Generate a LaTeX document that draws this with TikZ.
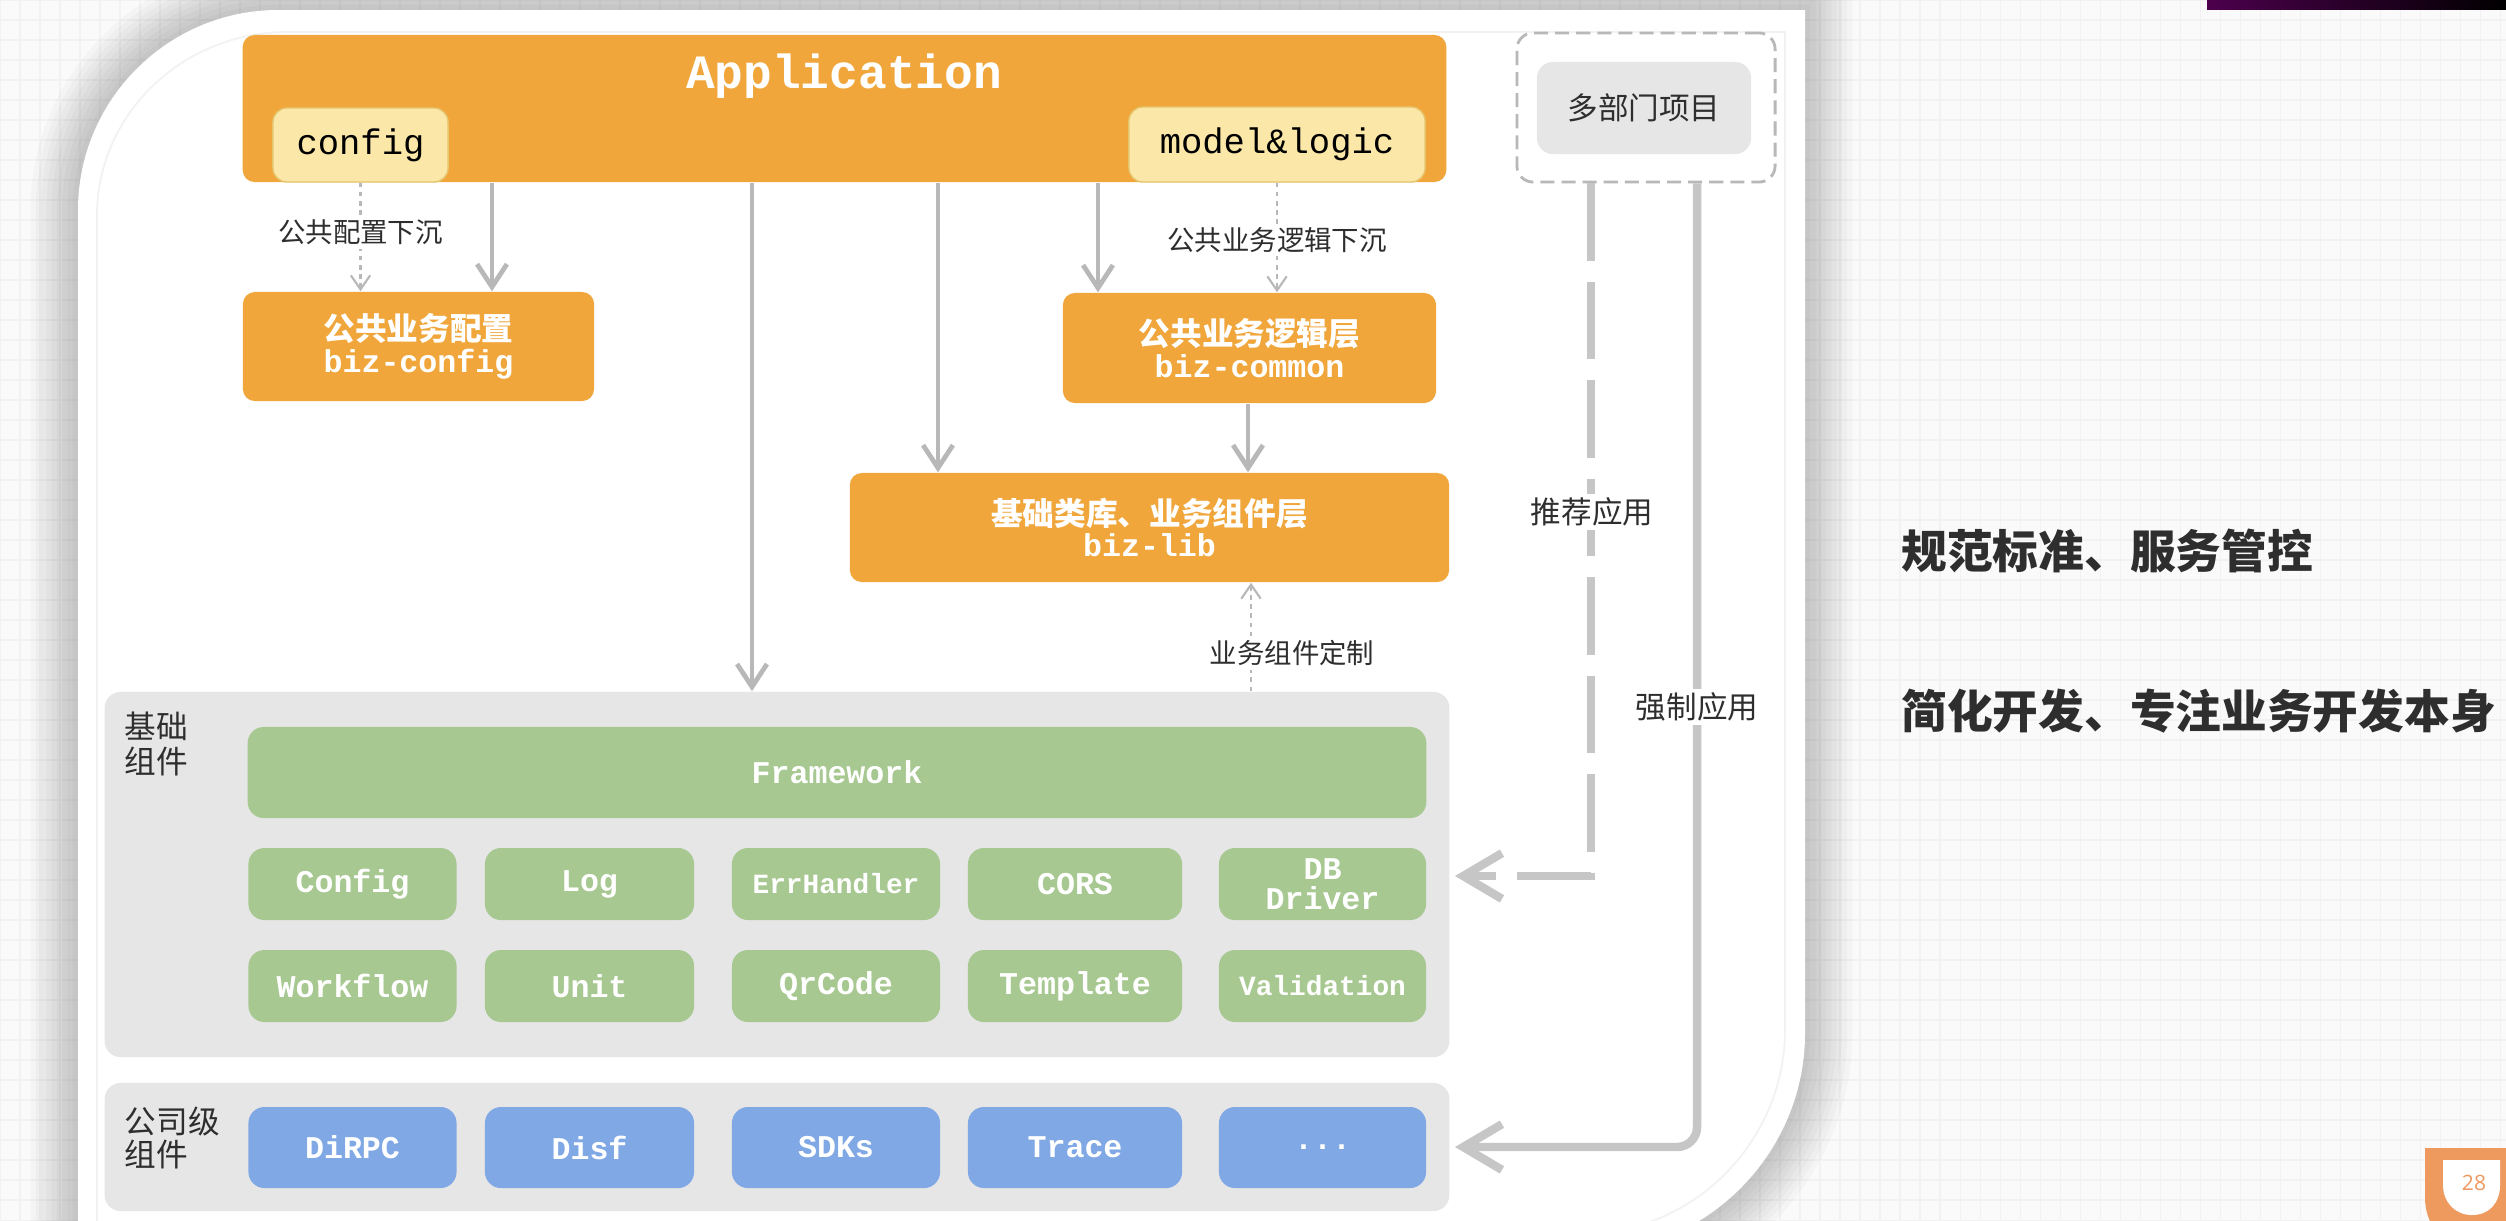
\documentclass[tikz,border=0pt]{standalone}
\usepackage{fontspec}
\setmonofont{Liberation Mono}
\newfontfamily\cjk{Noto Sans CJK SC}
\newfontfamily\pnfont{Open Sans}
\usetikzlibrary{arrows.meta,calc}
\definecolor{bgc}{HTML}{FAFAFA}
\definecolor{gridc}{HTML}{F2F2F2}
\definecolor{orng}{HTML}{F0A63B}
\definecolor{ylw}{HTML}{FBE8A8}
\definecolor{ylwb}{HTML}{E6C56E}
\definecolor{grn}{HTML}{A7C891}
\definecolor{blu}{HTML}{80A8E5}
\definecolor{panel}{HTML}{E6E6E6}
\definecolor{arrg}{HTML}{B8B8B8}
\definecolor{bigg}{HTML}{C6C6C6}
\definecolor{txt}{HTML}{2E2E2E}
\definecolor{pnum}{HTML}{EE9A5F}
\begin{document}
\begin{tikzpicture}[x=0.01cm,y=-0.01cm,
  obox/.style={fill=orng, rounded corners=0.12cm, inner sep=0pt, align=center, text=white,
    font=\fontsize{9}{9}\selectfont},
  ybox/.style={fill=ylw, draw=ylwb, line width=0.4pt, rounded corners=0.14cm, inner sep=0pt,
    font=\ttfamily\fontsize{10.1}{12}\selectfont, text=black},
  gbox/.style={fill=grn, rounded corners=0.16cm, inner sep=0pt, minimum height=0.72cm, align=center,
    text=white, font=\ttfamily\bfseries\fontsize{9}{8.6}\selectfont},
  bbox/.style={fill=blu, rounded corners=0.16cm, inner sep=0pt, minimum height=0.81cm,
    text=white, font=\ttfamily\bfseries\fontsize{9}{11}\selectfont},
  panelbox/.style={fill=panel, rounded corners=0.16cm, inner sep=0pt},
  small/.style={font=\ttfamily\bfseries\fontsize{7.9}{8.6}\selectfont},
  arr/.style={draw=arrg, line width=1.35pt, -{Straight Barb[length=6.5pt,width=8.5pt]}},
  darr/.style={draw=arrg, line width=0.6pt, dash pattern=on 1.3pt off 1.3pt,
    -{Straight Barb[length=4pt,width=5.5pt]}},
  bigarr/.style={draw=bigg, line width=2.4pt, -{Straight Barb[length=11pt,width=13pt]}},
  lbl/.style={fill=white, inner sep=1pt, text=txt, font=\cjk\fontsize{7.8}{9}\selectfont},
  lblb/.style={fill=white, inner sep=1pt, text=txt, font=\cjk\fontsize{8.7}{10}\selectfont},
  side/.style={anchor=west, text=txt, font=\cjk\bfseries\fontsize{13}{15}\selectfont}
]
\useasboundingbox (0,0) rectangle (2506,1220);
\clip (0,0) rectangle (2506,1220);
% background with faint grid
\fill[bgc] (0,0) rectangle (2506,1220);
\foreach \i in {0,20,...,2500} \draw[gridc, line width=0.3pt] (\i,0) -- (\i,1220);
\foreach \j in {0,20,...,1220} \draw[gridc, line width=0.3pt] (0,\j) -- (2506,\j);
% photo strip top right
\shade[left color=violet!60!black, right color=black] (2207,0) rectangle (2506,9);
% card with soft shadow
\def\cardpath{(78,1300) -- (78,210) .. controls (78,100) and (168,10) .. (278,10) -- (1805,10) -- (1805,1033) .. controls (1805,1154) and (1706,1253) .. (1585,1253) -- (1585,1300) -- cycle}
\foreach \w in {3,6,...,27} \draw[black, opacity=0.025, line width=\w pt] \cardpath;
\fill[white] \cardpath;
\draw[black!5, line width=0.5pt] (97,1300) -- (97,215) .. controls (97,115) and (182,32) .. (287,32) -- (1785,32) -- (1785,1030) .. controls (1785,1140) and (1695,1233) .. (1585,1233);
% page number
\fill[pnum] (2425,1148) -- (2530,1148) -- (2530,1252) -- (2478,1252) .. controls (2448,1252) and (2425,1228) .. (2425,1198) -- cycle;
\fill[white] (2443,1160) -- (2500,1160) -- (2500,1185) .. controls (2500,1202) and (2490,1215) .. (2472,1215) .. controls (2455,1215) and (2443,1202) .. (2443,1185) -- cycle;
\node[text=pnum, font=\pnfont\fontsize{6}{7}\selectfont, inner sep=0pt] (pnum) at (2474,1183) {28};

% top application
\node[obox, minimum width=12.03cm, minimum height=1.47cm] (app) at (844.5,108.5) {};
\node[anchor=base, text=white, inner sep=0pt, font=\ttfamily\bfseries\fontsize{13.6}{16}\selectfont] (apptitle) at (844,88) {Application};
\node[ybox, minimum width=1.75cm, minimum height=0.74cm] (config) at (360.5,145) {config};
\node[ybox, minimum width=2.96cm, minimum height=0.75cm] (model) at (1277,144.5) {model\&logic};

\node[obox, minimum width=3.51cm, minimum height=1.09cm] (bizconfig) at (418.5,346.5)
  {{\cjk\bfseries 公共业务配置}\\{\ttfamily\bfseries biz-config}};
\node[obox, minimum width=3.73cm, minimum height=1.10cm] (bizcommon) at (1249.5,348)
  {{\cjk\bfseries 公共业务逻辑层}\\{\ttfamily\bfseries biz-common}};
\node[obox, minimum width=5.99cm, minimum height=1.09cm] (bizlib) at (1149.5,527.5)
  {{\cjk\bfseries 基础类库、业务组件层}\\{\ttfamily\bfseries biz-lib}};

% multi department
\node[draw=black!28, line width=0.8pt, dash pattern=on 4pt off 2pt, rounded corners=0.16cm,
  minimum width=2.58cm, minimum height=1.49cm, inner sep=0pt] (multi) at (1646,107.5) {};
\node[fill=panel, rounded corners=0.16cm, minimum width=2.14cm, minimum height=0.92cm, inner sep=0pt,
  text=txt, font=\cjk\fontsize{8.7}{10}\selectfont] (multiin) at (1644,108) {多部门项目};

% base components panel
\node[panelbox, minimum width=13.44cm, minimum height=3.65cm] (base) at (777,874.5) {};
\node[anchor=north west, align=left, inner sep=0pt, text=txt, font=\cjk\fontsize{9}{10}\selectfont] (baselbl) at (124,711) {基础\\组件};
\node[gbox, minimum width=11.78cm, minimum height=0.91cm] (fw) at (837,772.5) {Framework};
\node[gbox, minimum width=2.08cm] (g11) at (352.5,884) {Config};
\node[gbox, minimum width=2.09cm] (g12) at (589.5,884) {Log};
\node[gbox, small, minimum width=2.08cm] (g13) at (836,884) {ErrHandler};
\node[gbox, minimum width=2.14cm] (g14) at (1075,884) {CORS};
\node[gbox, minimum width=2.07cm] (g15) at (1322.5,884) {DB\\Driver};
\node[gbox, minimum width=2.08cm] (g21) at (352.5,986) {Workflow};
\node[gbox, minimum width=2.09cm] (g22) at (589.5,986) {Unit};
\node[gbox, minimum width=2.08cm] (g23) at (836,986) {QrCode};
\node[gbox, minimum width=2.14cm] (g24) at (1075,986) {Template};
\node[gbox, small, minimum width=2.07cm] (g25) at (1322.5,986) {Validation};

% company panel
\node[panelbox, minimum width=13.44cm, minimum height=1.28cm] (comp) at (777,1147) {};
\node[anchor=north west, align=left, inner sep=0pt, text=txt, font=\cjk\fontsize{9}{9.4}\selectfont] (complbl) at (124,1106) {公司级\\组件};
\node[bbox, minimum width=2.08cm] (b1) at (352.5,1147.5) {DiRPC};
\node[bbox, minimum width=2.09cm] (b2) at (589.5,1147.5) {Disf};
\node[bbox, minimum width=2.08cm] (b3) at (836,1147.5) {SDKs};
\node[bbox, minimum width=2.14cm] (b4) at (1075,1147.5) {Trace};
\node[bbox, minimum width=2.07cm] (b5) at (1322.5,1147.5) {...};

% column coordinates
\coordinate (xa) at (492,0);
\coordinate (xb) at (752,0);
\coordinate (xc) at (938,0);
\coordinate (xd) at (1098,0);
\coordinate (xe) at (1248,0);
\coordinate (xf) at (1251,0);
\coordinate (t1) at (1455,876);
\coordinate (t2) at (1455,1147);

% solid arrows
\draw[arr] (app.south -| xa) -- (bizconfig.north -| xa);
\draw[arr] (app.south -| xb) -- (base.north -| xb);
\draw[arr] (app.south -| xc) -- (bizlib.north -| xc);
\draw[arr] (app.south -| xd) -- (bizcommon.north -| xd);
\draw[arr] (bizcommon.south -| xe) -- (bizlib.north -| xe);

% dotted arrows
\draw[darr] (config.south) -- (bizconfig.north -| config.south)
  node[lbl, pos=0.46] (l1) {公共配置下沉};
\draw[darr] (model.south) -- (bizcommon.north -| model.south)
  node[lbl, pos=0.52] (l2) {公共业务逻辑下沉};
\draw[darr] (base.north -| xf) -- (bizlib.south -| xf)
  node[lbl, pos=0.35, xshift=0.41cm] (l3) {业务组件定制};

% big arrows from multi-department project
\draw[bigarr, dash pattern=on 22pt off 6pt, dash phase=0pt] ([xshift=-0.55cm]multi.south) |- (t1);
\node[lblb] (l4) at (1592,512) {推荐应用};
\draw[bigarr, rounded corners=0.2cm] ([xshift=0.51cm]multi.south) |- (t2);
\node[lblb] (l5) at (1697,707) {强制应用};

% side texts
\node[side] (s1) at (1889,551) {规范标准、服务管控};
\node[side] (s2) at (1889,711) {简化开发、专注业务开发本身};
\end{tikzpicture}
\end{document}
